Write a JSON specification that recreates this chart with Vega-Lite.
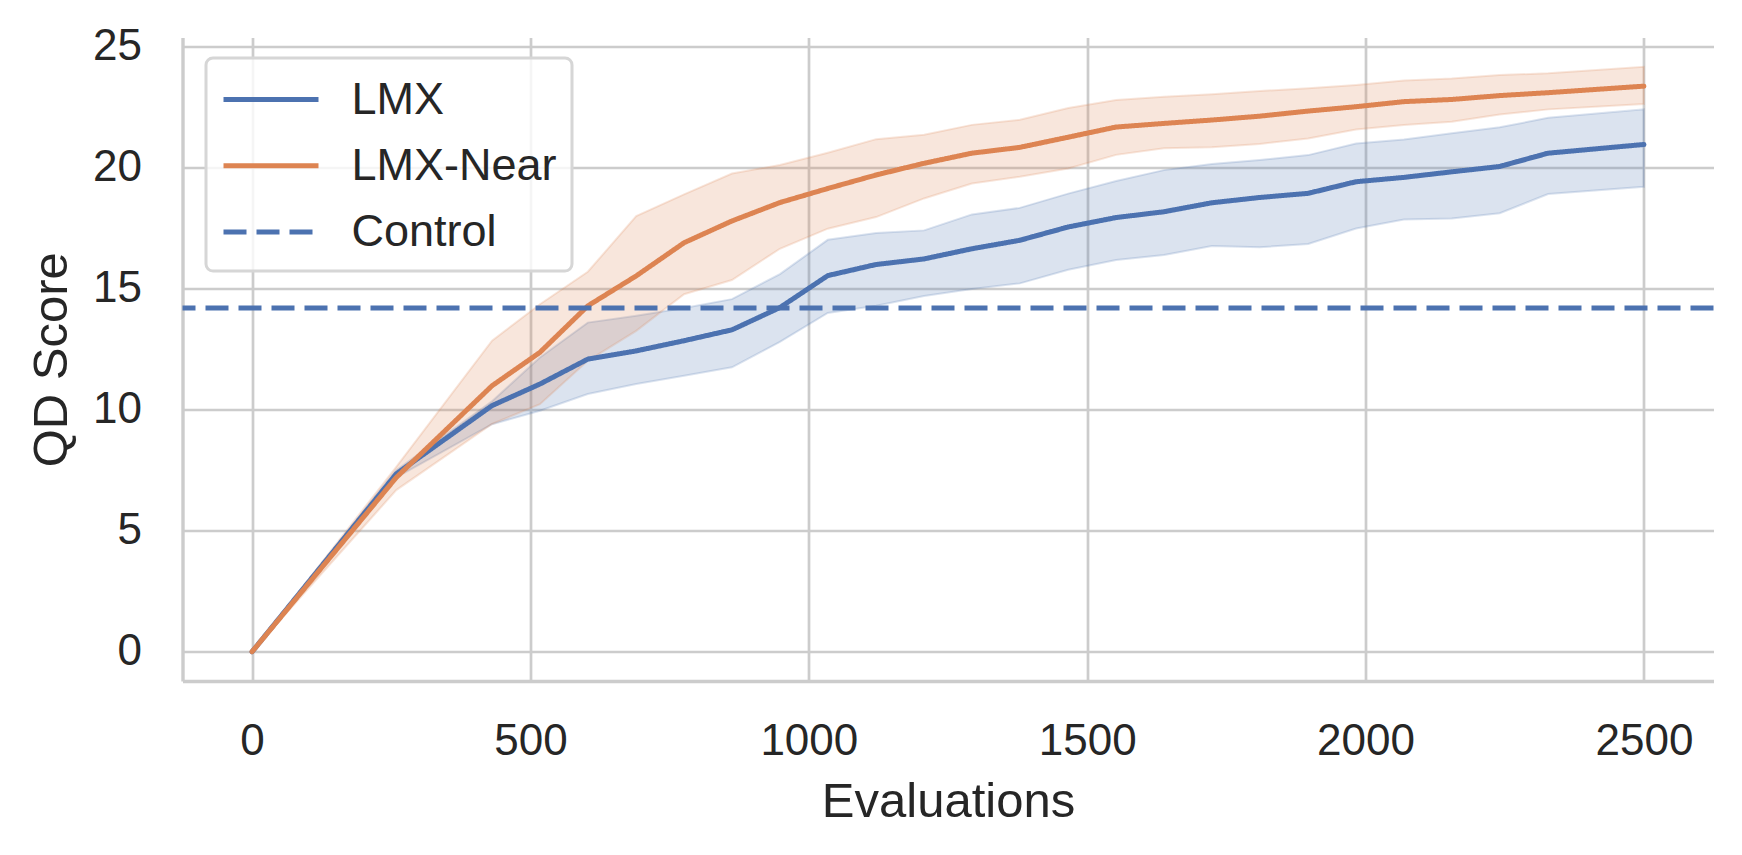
{
  "$schema": "https://vega.github.io/schema/vega-lite/v6.json",
  "width": 1531,
  "height": 643.5,
  "autosize": {"type": "none"},
  "padding": {"left": 182.5, "top": 37.5, "right": 28.5, "bottom": 174},
  "background": "white",
  "config": {
    "font": "Liberation Sans",
    "view": {"stroke": null},
    "axis": {
      "grid": true,
      "gridColor": "#cccccc",
      "gridWidth": 2.7,
      "domainColor": "#cccccc",
      "domainWidth": 3.4,
      "ticks": false,
      "tickSize": 0,
      "labelFont": "Liberation Sans",
      "labelFontSize": 44,
      "labelColor": "#262626",
      "labelOverlap": false,
      "labelFlush": false,
      "titleFont": "Liberation Sans",
      "titleFontSize": 49,
      "titleFontWeight": "normal",
      "titleColor": "#262626"
    },
    "legend": {
      "orient": "none",
      "legendX": 23.5,
      "legendY": 20.5,
      "symbolType": "M-2,0H2",
      "symbolSize": 2256,
      "symbolStrokeWidth": 5,
      "symbolOffset": 23.5,
      "labelFont": "Liberation Sans",
      "labelFontSize": 45,
      "labelColor": "#262626",
      "labelLimit": 500,
      "labelOffset": 54,
      "padding": 15,
      "rowPadding": 16.3,
      "fillColor": "rgba(255,255,255,0.8)",
      "strokeColor": "#d6d6d6",
      "strokeWidth": 3,
      "cornerRadius": 7
    }
  },
  "data": {
    "values": [
      {"series": "LMX", "evals": 0, "qd": 0, "lo": 0, "hi": 0},
      {"series": "LMX", "evals": 259, "qd": 7.35, "lo": 7.2, "hi": 7.5},
      {"series": "LMX", "evals": 431, "qd": 10.17, "lo": 9.4, "hi": 10.35},
      {"series": "LMX", "evals": 517, "qd": 11.06, "lo": 9.96, "hi": 12.16},
      {"series": "LMX", "evals": 603, "qd": 12.09, "lo": 10.65, "hi": 13.6},
      {"series": "LMX", "evals": 690, "qd": 12.43, "lo": 11.06, "hi": 13.88},
      {"series": "LMX", "evals": 776, "qd": 12.85, "lo": 11.4, "hi": 14.2},
      {"series": "LMX", "evals": 862, "qd": 13.3, "lo": 11.75, "hi": 14.57},
      {"series": "LMX", "evals": 948, "qd": 14.22, "lo": 12.8, "hi": 15.6},
      {"series": "LMX", "evals": 1034, "qd": 15.54, "lo": 14.0, "hi": 17.02},
      {"series": "LMX", "evals": 1121, "qd": 16.0, "lo": 14.3, "hi": 17.3},
      {"series": "LMX", "evals": 1207, "qd": 16.23, "lo": 14.7, "hi": 17.41},
      {"series": "LMX", "evals": 1293, "qd": 16.65, "lo": 14.99, "hi": 18.07},
      {"series": "LMX", "evals": 1379, "qd": 17.0, "lo": 15.22, "hi": 18.34},
      {"series": "LMX", "evals": 1466, "qd": 17.55, "lo": 15.78, "hi": 18.93},
      {"series": "LMX", "evals": 1552, "qd": 17.94, "lo": 16.19, "hi": 19.45},
      {"series": "LMX", "evals": 1638, "qd": 18.18, "lo": 16.39, "hi": 19.9},
      {"series": "LMX", "evals": 1724, "qd": 18.55, "lo": 16.76, "hi": 20.15},
      {"series": "LMX", "evals": 1810, "qd": 18.77, "lo": 16.71, "hi": 20.32},
      {"series": "LMX", "evals": 1897, "qd": 18.94, "lo": 16.85, "hi": 20.52},
      {"series": "LMX", "evals": 1983, "qd": 19.42, "lo": 17.49, "hi": 21.0},
      {"series": "LMX", "evals": 2069, "qd": 19.6, "lo": 17.86, "hi": 21.17},
      {"series": "LMX", "evals": 2155, "qd": 19.83, "lo": 17.9, "hi": 21.42},
      {"series": "LMX", "evals": 2241, "qd": 20.05, "lo": 18.12, "hi": 21.67},
      {"series": "LMX", "evals": 2328, "qd": 20.6, "lo": 18.91, "hi": 22.06},
      {"series": "LMX", "evals": 2500, "qd": 20.96, "lo": 19.21, "hi": 22.41},
      {"series": "LMX-Near", "evals": 0, "qd": 0, "lo": 0, "hi": 0},
      {"series": "LMX-Near", "evals": 259, "qd": 7.2, "lo": 6.68, "hi": 7.64},
      {"series": "LMX-Near", "evals": 431, "qd": 10.99, "lo": 9.41, "hi": 12.85},
      {"series": "LMX-Near", "evals": 517, "qd": 12.37, "lo": 10.23, "hi": 14.36},
      {"series": "LMX-Near", "evals": 603, "qd": 14.29, "lo": 12.02, "hi": 15.7},
      {"series": "LMX-Near", "evals": 690, "qd": 15.53, "lo": 13.26, "hi": 18.0},
      {"series": "LMX-Near", "evals": 776, "qd": 16.9, "lo": 14.77, "hi": 18.9},
      {"series": "LMX-Near", "evals": 862, "qd": 17.8, "lo": 15.36, "hi": 19.76},
      {"series": "LMX-Near", "evals": 948, "qd": 18.56, "lo": 16.65, "hi": 20.11},
      {"series": "LMX-Near", "evals": 1034, "qd": 19.14, "lo": 17.48, "hi": 20.62},
      {"series": "LMX-Near", "evals": 1121, "qd": 19.7, "lo": 17.96, "hi": 21.18},
      {"series": "LMX-Near", "evals": 1207, "qd": 20.18, "lo": 18.73, "hi": 21.36},
      {"series": "LMX-Near", "evals": 1293, "qd": 20.6, "lo": 19.35, "hi": 21.77},
      {"series": "LMX-Near", "evals": 1379, "qd": 20.84, "lo": 19.63, "hi": 21.98},
      {"series": "LMX-Near", "evals": 1466, "qd": 21.26, "lo": 19.97, "hi": 22.47},
      {"series": "LMX-Near", "evals": 1552, "qd": 21.68, "lo": 20.53, "hi": 22.8},
      {"series": "LMX-Near", "evals": 1638, "qd": 21.83, "lo": 20.8, "hi": 22.93},
      {"series": "LMX-Near", "evals": 1724, "qd": 21.97, "lo": 20.84, "hi": 23.03},
      {"series": "LMX-Near", "evals": 1810, "qd": 22.13, "lo": 20.98, "hi": 23.17},
      {"series": "LMX-Near", "evals": 1897, "qd": 22.34, "lo": 21.21, "hi": 23.28},
      {"series": "LMX-Near", "evals": 1983, "qd": 22.52, "lo": 21.58, "hi": 23.42},
      {"series": "LMX-Near", "evals": 2069, "qd": 22.73, "lo": 21.76, "hi": 23.6},
      {"series": "LMX-Near", "evals": 2155, "qd": 22.82, "lo": 21.9, "hi": 23.69},
      {"series": "LMX-Near", "evals": 2241, "qd": 22.98, "lo": 22.2, "hi": 23.83},
      {"series": "LMX-Near", "evals": 2328, "qd": 23.1, "lo": 22.41, "hi": 23.9},
      {"series": "LMX-Near", "evals": 2500, "qd": 23.37, "lo": 22.63, "hi": 24.17},
      {"series": "Control", "qd": 14.2}
    ]
  },
  "layer": [
    {
      "transform": [{"filter": "datum.series !== 'Control'"}],
      "mark": {"type": "area", "fillOpacity": 0.2, "strokeOpacity": 0.2, "strokeWidth": 2},
      "encoding": {
        "x": {
          "field": "evals",
          "type": "quantitative",
          "scale": {"domain": [-125, 2625], "nice": false, "zero": false},
          "axis": {"values": [0, 500, 1000, 1500, 2000, 2500], "format": "d", "title": "Evaluations", "labelPadding": 38, "titlePadding": 14}
        },
        "y": {
          "field": "lo",
          "type": "quantitative",
          "scale": {"domain": [-1.21, 25.38], "nice": false, "zero": false},
          "axis": {"values": [0, 5, 10, 15, 20, 25], "title": "QD Score", "labelPadding": 41, "titlePadding": 16}
        },
        "y2": {"field": "hi"},
        "fill": {"field": "series", "type": "nominal", "scale": {"domain": ["LMX", "LMX-Near"], "range": ["#4c72b0", "#dd8452"]}, "legend": null},
        "stroke": {"field": "series", "type": "nominal", "scale": {"domain": ["LMX", "LMX-Near"], "range": ["#4c72b0", "#dd8452"]}, "legend": null}
      }
    },
    {
      "transform": [{"filter": "datum.series !== 'Control'"}],
      "mark": {"type": "line", "strokeWidth": 5, "strokeCap": "round", "strokeJoin": "round"},
      "encoding": {
        "x": {"field": "evals", "type": "quantitative", "title": "Evaluations"},
        "y": {"field": "qd", "type": "quantitative", "title": "QD Score"},
        "color": {
          "field": "series",
          "type": "nominal",
          "scale": {"domain": ["LMX", "LMX-Near", "Control"], "range": ["#4c72b0", "#dd8452", "#4c72b0"]},
          "legend": {"title": null}
        },
        "strokeDash": {
          "field": "series",
          "type": "nominal",
          "scale": {"domain": ["LMX", "LMX-Near", "Control"], "range": [[1, 0], [1, 0], [23, 10]]},
          "legend": {"title": null}
        }
      }
    },
    {
      "transform": [{"filter": "datum.series === 'Control'"}],
      "mark": {"type": "rule", "strokeWidth": 5},
      "encoding": {
        "y": {"field": "qd", "type": "quantitative", "title": "QD Score"},
        "color": {"field": "series", "type": "nominal"},
        "strokeDash": {"field": "series", "type": "nominal"}
      }
    }
  ]
}
